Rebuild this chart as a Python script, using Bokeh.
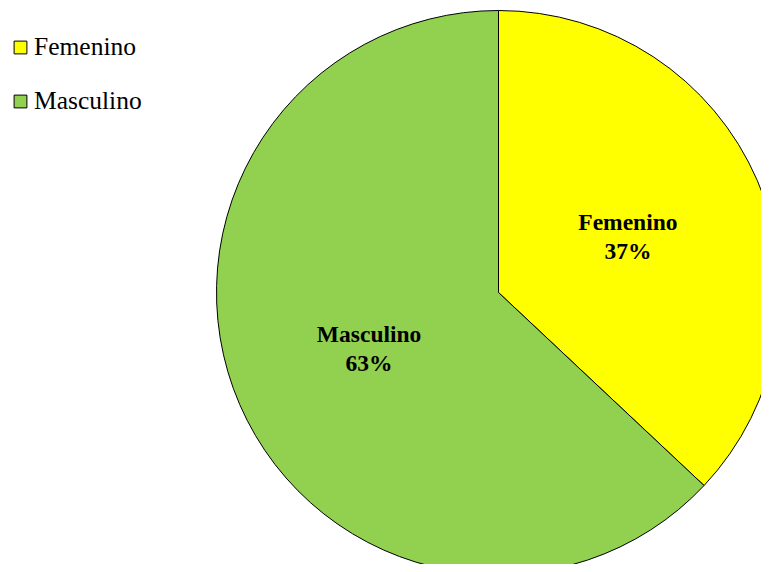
import numpy as np
from bokeh.plotting import figure
from bokeh.models import ColumnDataSource, Range1d, Legend, LegendItem
from bokeh.embed import file_html
from bokeh.resources import INLINE
from bokeh.core.properties import value

categories = ["Femenino", "Masculino"]
percents = [37, 63]
colors = ["#FFFF00", "#92D050"]

W, H = 761, 564
CX, CY, R = 498, H - 292, 282

p = figure(width=W, height=H, output_backend="svg", toolbar_location=None,
           x_range=Range1d(0, W), y_range=Range1d(0, H), min_border=0)
p.axis.visible = False
p.grid.visible = False
p.outline_line_color = None

vals = np.array(percents, dtype=float)
cum = np.cumsum(vals) / vals.sum()
cum0 = np.concatenate([[0], cum[:-1]])
start = np.pi / 2 - 2 * np.pi * cum
end = np.pi / 2 - 2 * np.pi * cum0
mid = (start + end) / 2

src = ColumnDataSource(dict(
    cat=categories, color=colors, start=start, end=end,
    lx=CX + 0.5 * R * np.cos(mid), ly=CY + 0.5 * R * np.sin(mid),
    lab=[f"{c}\n{v:.0f}%" for c, v in zip(categories, vals / vals.sum() * 100)],
))

rends = []
for i in range(len(categories)):
    r = p.wedge(x=CX, y=CY, radius=R, start_angle=start[i], end_angle=end[i],
                fill_color=colors[i], line_color="black", line_width=1)
    rends.append(r)

p.text(x="lx", y="ly", text="lab", source=src, text_align="center",
       text_baseline="middle", text_font=value("Liberation Serif"),
       text_font_size="23.5px", text_font_style="bold", text_color="black",
       text_line_height=1.1)

legend = Legend(items=[LegendItem(label=c, renderers=[r]) for c, r in zip(categories, rends)],
                label_text_font="Liberation Serif", label_text_color="black",
                label_text_font_size="25.5px", glyph_width=16, glyph_height=16,
                label_standoff=6, spacing=24, padding=0, margin=0,
                border_line_alpha=0, background_fill_alpha=0)
p.add_layout(legend)
legend.location = (12, H - 116)

open("out.html", "w").write(file_html(p, INLINE))
